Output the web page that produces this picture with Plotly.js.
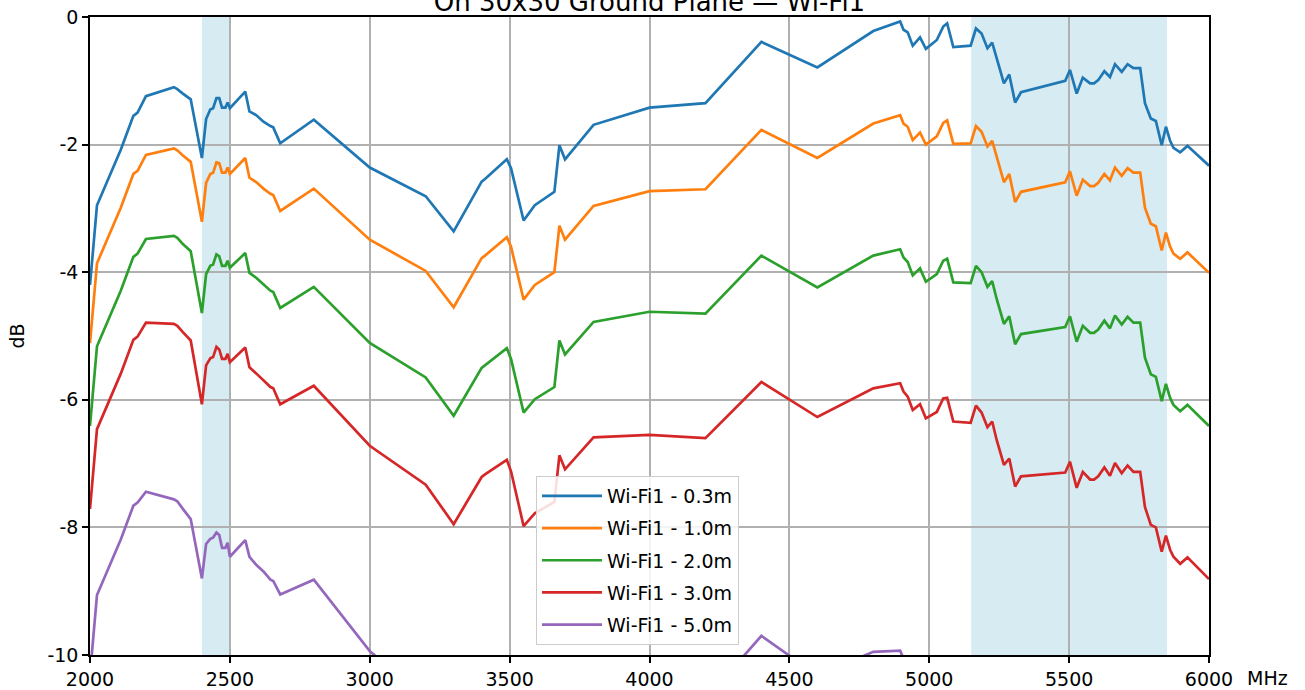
<!DOCTYPE html>
<html>
<head>
<meta charset="utf-8">
<script src="https://cdn.plot.ly/plotly-3.0.1.min.js"></script>
<style>
  html, body { margin: 0; padding: 0; background: #ffffff; }
  #chart { width: 1305px; height: 690px; }
</style>
</head>
<body>
<div id="chart"></div>
<script>
// ---- data ----
const freqMHz = [2000, 2025, 2110, 2155, 2170, 2200, 2300, 2312, 2332, 2360,
  2400, 2415, 2430, 2440, 2452, 2462, 2472, 2484, 2492, 2500,
  2555, 2570, 2595, 2620, 2645, 2655, 2680, 2800, 3000, 3200,
  3300, 3400, 3412, 3490, 3505, 3550, 3590, 3660, 3678, 3698,
  3800, 4000, 4200, 4400, 4600, 4800, 4896, 4908, 4923, 4941,
  4967, 4988, 5027, 5050, 5064, 5086, 5148, 5167, 5187, 5208,
  5225, 5241, 5267, 5286, 5307, 5328, 5486, 5503, 5527, 5549,
  5575, 5589, 5604, 5626, 5646, 5664, 5688, 5709, 5730, 5754,
  5771, 5792, 5810, 5831, 5846, 5861, 5873, 5897, 5923, 6000];

const wifi1_03m = [-4.20, -2.95, -2.08, -1.55, -1.50, -1.24, -1.10, -1.13, -1.20, -1.29,
  -2.21, -1.60, -1.45, -1.43, -1.27, -1.27, -1.42, -1.42, -1.34, -1.43,
  -1.17, -1.48, -1.54, -1.64, -1.71, -1.73, -1.98, -1.61, -2.36, -2.81,
  -3.36, -2.58, -2.54, -2.23, -2.37, -3.19, -2.95, -2.74, -2.01, -2.23,
  -1.69, -1.42, -1.35, -0.39, -0.79, -0.22, -0.07, -0.20, -0.24, -0.45,
  -0.32, -0.50, -0.36, -0.15, -0.10, -0.47, -0.45, -0.18, -0.26, -0.49,
  -0.40, -0.65, -1.04, -0.90, -1.34, -1.18, -1.00, -0.83, -1.20, -0.95,
  -1.04, -1.04, -0.99, -0.85, -0.94, -0.74, -0.86, -0.74, -0.80, -0.80,
  -1.35, -1.59, -1.63, -2.01, -1.72, -1.94, -2.05, -2.12, -2.02, -2.33];

const wifi1_10m = [-5.11, -3.86, -2.99, -2.46, -2.41, -2.16, -2.06, -2.09, -2.17, -2.27,
  -3.21, -2.60, -2.46, -2.44, -2.28, -2.29, -2.44, -2.44, -2.36, -2.46,
  -2.21, -2.52, -2.59, -2.69, -2.77, -2.79, -3.04, -2.69, -3.49, -3.98,
  -4.55, -3.78, -3.74, -3.45, -3.60, -4.43, -4.20, -4.00, -3.27, -3.49,
  -2.96, -2.73, -2.70, -1.77, -2.21, -1.67, -1.54, -1.67, -1.72, -1.93,
  -1.81, -2.00, -1.87, -1.66, -1.62, -1.99, -1.98, -1.71, -1.80, -2.03,
  -1.94, -2.20, -2.59, -2.46, -2.90, -2.74, -2.59, -2.42, -2.80, -2.55,
  -2.65, -2.65, -2.60, -2.46, -2.56, -2.36, -2.49, -2.37, -2.44, -2.44,
  -2.99, -3.24, -3.28, -3.66, -3.38, -3.60, -3.71, -3.79, -3.69, -4.01];

const wifi1_20m = [-6.41, -5.16, -4.29, -3.76, -3.71, -3.48, -3.43, -3.46, -3.56, -3.67,
  -4.64, -4.03, -3.90, -3.88, -3.72, -3.75, -3.90, -3.90, -3.82, -3.93,
  -3.70, -4.01, -4.09, -4.19, -4.29, -4.31, -4.56, -4.23, -5.11, -5.65,
  -6.25, -5.50, -5.46, -5.19, -5.36, -6.20, -5.99, -5.80, -5.07, -5.29,
  -4.78, -4.62, -4.65, -3.74, -4.24, -3.74, -3.64, -3.77, -3.84, -4.05,
  -3.94, -4.15, -4.03, -3.82, -3.79, -4.16, -4.17, -3.90, -4.00, -4.23,
  -4.14, -4.42, -4.81, -4.69, -5.13, -4.97, -4.86, -4.69, -5.09, -4.84,
  -4.95, -4.95, -4.90, -4.76, -4.88, -4.68, -4.82, -4.70, -4.79, -4.79,
  -5.34, -5.60, -5.64, -6.02, -5.75, -5.97, -6.08, -6.18, -6.08, -6.41];

const wifi1_30m = [-7.71, -6.46, -5.59, -5.06, -5.01, -4.79, -4.81, -4.84, -4.94, -5.07,
  -6.07, -5.46, -5.35, -5.33, -5.17, -5.21, -5.36, -5.36, -5.28, -5.41,
  -5.18, -5.49, -5.59, -5.69, -5.80, -5.82, -6.07, -5.78, -6.72, -7.33,
  -7.95, -7.21, -7.17, -6.94, -7.12, -7.98, -7.78, -7.60, -6.87, -7.09,
  -6.59, -6.55, -6.60, -5.72, -6.27, -5.82, -5.74, -5.87, -5.95, -6.16,
  -6.07, -6.29, -6.19, -5.98, -5.97, -6.34, -6.36, -6.09, -6.20, -6.43,
  -6.34, -6.63, -7.02, -6.92, -7.36, -7.20, -7.14, -6.97, -7.38, -7.13,
  -7.25, -7.25, -7.20, -7.06, -7.19, -6.99, -7.15, -7.03, -7.13, -7.13,
  -7.68, -7.96, -8.00, -8.38, -8.13, -8.35, -8.46, -8.57, -8.47, -8.81];

const wifi1_50m = [-10.31, -9.06, -8.19, -7.66, -7.61, -7.44, -7.56, -7.59, -7.71, -7.87,
  -8.80, -8.26, -8.18, -8.16, -8.08, -8.12, -8.32, -8.32, -8.24, -8.46,
  -8.20, -8.46, -8.59, -8.69, -8.82, -8.84, -9.05, -8.82, -9.94, -10.66,
  -11.34, -10.63, -10.59, -10.42, -10.62, -11.51, -11.34, -11.19, -10.46, -10.68,
  -10.21, -10.30, -10.70, -9.70, -10.32, -9.95, -9.93, -10.06, -10.17, -10.38,
  -10.32, -10.57, -10.49, -10.28, -10.30, -10.67, -10.72, -10.45, -10.59, -10.82,
  -10.73, -11.05, -11.44, -11.37, -11.81, -11.65, -11.67, -11.50, -11.94, -11.69,
  -11.84, -11.84, -11.79, -11.65, -11.81, -11.61, -11.80, -11.68, -11.80, -11.80,
  -12.35, -12.66, -12.70, -13.08, -12.86, -13.08, -13.19, -13.33, -13.23, -13.60];

const seriesNames = ['Wi-Fi1 - 0.3m', 'Wi-Fi1 - 1.0m', 'Wi-Fi1 - 2.0m', 'Wi-Fi1 - 3.0m', 'Wi-Fi1 - 5.0m'];
const seriesValues = [wifi1_03m, wifi1_10m, wifi1_20m, wifi1_30m, wifi1_50m];
const seriesColors = ['#1f77b4', '#ff7f0e', '#2ca02c', '#d62728', '#9467bd'];

const bands = [[2400, 2500], [5150, 5850]];
const xTicks = [2000, 2500, 3000, 3500, 4000, 4500, 5000, 5500, 6000];
const yTicks = [0, -2, -4, -6, -8, -10];
const yTickText = ['0', '-2', '-4', '-6', '-8', '-10'];
const chartTitle = 'On 30x30 Ground Plane \u2014 Wi-Fi1';

// ---- chart ----
const FONT = 'DejaVu Sans, Liberation Sans, sans-serif';

const traces = seriesNames.map((name, i) => ({
  type: 'scatter',
  mode: 'lines',
  name: name,
  x: freqMHz,
  y: seriesValues[i],
  line: { color: seriesColors[i], width: 2.7 },
  legendgroup: 'g' + i,
  hoverinfo: 'x+y+name'
}));

const shapes = bands.map(b => ({
  type: 'rect', xref: 'x', yref: 'paper',
  x0: b[0], x1: b[1], y0: 0, y1: 1,
  fillcolor: 'rgba(173,216,230,0.5)', line: { width: 0 }, layer: 'below'
}));

const layout = {
  width: 1305, height: 690,
  margin: { l: 90, r: 96, t: 17, b: 35, pad: 0 },
  paper_bgcolor: '#ffffff', plot_bgcolor: '#ffffff',
  font: { family: FONT, size: 19, color: '#000000' },
  title: {
    text: chartTitle,
    font: { family: FONT, size: 26, color: '#000000' },
    x: 0.5, xref: 'paper', xanchor: 'center',
    y: 1 - 11 / 690, yref: 'container', yanchor: 'bottom'
  },
  showlegend: true,
  legend: {
    x: (536 - 90) / 1119, y: 1 - (476 - 17) / 638,
    xanchor: 'left', yanchor: 'top',
    bgcolor: 'rgba(255,255,255,0.85)', bordercolor: '#cccccc', borderwidth: 1,
    font: { family: FONT, size: 19, color: '#000000' },
    traceorder: 'grouped', tracegroupgap: 4.5, itemwidth: 60
  },
  xaxis: {
    range: [2000, 6000], tickmode: 'array', tickvals: xTicks,
    ticktext: xTicks.map(String),
    showgrid: true, gridcolor: '#b0b0b0', gridwidth: 1.5,
    showline: true, linecolor: '#000000', linewidth: 1.5, mirror: true,
    ticks: 'outside', ticklen: 6, tickwidth: 1.5, tickcolor: '#000000',
    zeroline: false, tickfont: { family: FONT, size: 19, color: '#000000' }
  },
  yaxis: {
    range: [-10, 0], tickmode: 'array', tickvals: yTicks, ticktext: yTickText,
    showgrid: true, gridcolor: '#b0b0b0', gridwidth: 1.5,
    showline: true, linecolor: '#000000', linewidth: 1.5, mirror: true,
    ticks: 'outside', ticklen: 6, tickwidth: 1.5, tickcolor: '#000000',
    zeroline: false, tickfont: { family: FONT, size: 19, color: '#000000' },
    title: { text: 'dB', font: { family: FONT, size: 19, color: '#000000' }, standoff: 18 }
  },
  shapes: shapes,
  annotations: [{
    text: 'MHz', xref: 'paper', yref: 'paper', x: 1, y: 0,
    xanchor: 'left', yanchor: 'top', xshift: 36, yshift: -10, showarrow: false,
    font: { family: FONT, size: 19, color: '#000000' }
  }]
};

Plotly.newPlot('chart', traces, layout, { displayModeBar: false, staticPlot: false });
</script>
</body>
</html>
